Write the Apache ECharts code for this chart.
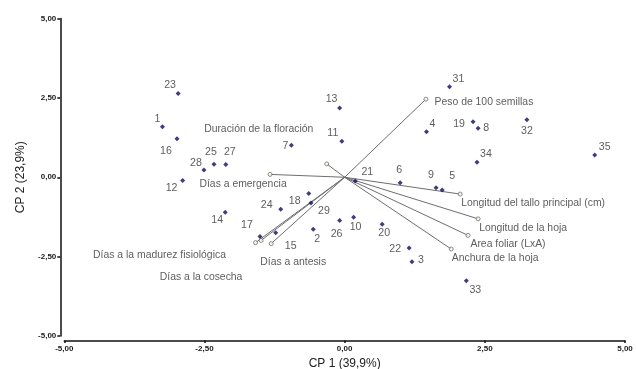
<!DOCTYPE html>
<html><head><meta charset="utf-8">
<script src="https://cdn.jsdelivr.net/npm/echarts@6/dist/echarts.min.js"></script>
<style>html,body{margin:0;padding:0;background:#fff}#c{width:636px;height:369px}</style>
</head><body><div id="c"></div>
<script>
// Observations (genotypes)
const obsIds = ['1','2','3','4','5','6','7','8','9','10','11','12','13','14','15','16','17','18','19','20','21','22','23','24','25','26','27','28','29','31','32','33','34','35'];
const obsPC1 = [-3.25,-0.56,1.20,1.46,1.74,0.99,-0.95,2.38,1.63,0.16,-0.05,-2.89,-0.09,-2.13,-1.23,-2.99,-1.51,-0.64,2.29,0.67,0.19,1.15,-2.97,-1.14,-2.33,-0.09,-2.12,-2.51,-0.60,1.87,3.25,2.17,2.36,4.46];
const obsPC2 = [1.59,-1.64,-2.66,1.43,-0.40,-0.17,1.01,1.54,-0.33,-1.26,1.13,-0.10,2.18,-1.10,-1.75,1.21,-1.87,-0.51,1.75,-1.48,-0.12,-2.23,2.64,-1.01,0.41,-1.36,0.40,0.23,-0.81,2.85,1.81,-3.26,0.47,0.70];

// Variables (loadings)
const varNames = ['Peso de 100 semillas','Duración de la floración','Días a emergencia','Longitud del tallo principal (cm)','Longitud de la hoja','Area foliar (LxA)','Anchura de la hoja','Días a la madurez fisiológica','Días a la cosecha','Días a antesis'];
const varPC1 = [1.45,-0.32,-1.33,2.06,2.38,2.20,1.90,-1.59,-1.49,-1.31];
const varPC2 = [2.46,0.42,0.09,-0.53,-1.31,-1.83,-2.26,-2.06,-1.99,-2.09];

// Axis
const tickValues = [-5, -2.5, 0, 2.5, 5];

// Layout only: label offsets (px) from marks
const obsLabelOffset = {
  '1':[-5,-8],'2':[4,10],'3':[9,-2],'4':[6,-8],'5':[10,-14],'6':[-1,-13],'7':[-6,1],'8':[8,0],'9':[-5,-13],
  '10':[2,10],'11':[-9,-8],'12':[-11,8],'13':[-8,-9],'14':[-8,8],'15':[15,13],'16':[-11,12],'17':[-13,-12],
  '18':[-14,8],'19':[-14,2],'20':[2,9],'21':[12,-9],'22':[-14,1],'23':[-8,-8],'24':[-14,-4],'25':[-3,-12],
  '26':[-3,14],'27':[4,-12],'28':[-8,-7],'29':[13,8],'31':[9,-8],'32':[0,11],'33':[9,9],'34':[9,-8],'35':[10,-8]
};
const varLabelOffset = [[58,3],[-68,-35],[-27,10],[73,9],[45,9],[40,9],[44,9],[-96,12],[-60,37],[22,19]];

const fmt = v => v.toFixed(2).replace('.', ',');
const FONT = 'Liberation Sans, Arial, sans-serif';

const series = [];
varNames.forEach((n, i) => {
  series.push({
    type: 'line', data: [[0, 0], [varPC1[i], varPC2[i]]], symbol: 'none', silent: true,
    lineStyle: { color: '#6e6e6e', width: 1 }, z: 2, animation: false
  });
});
series.push({
  type: 'scatter', z: 3, animation: false, symbol: 'circle', symbolSize: 4,
  itemStyle: { color: '#fdfbe6', borderColor: '#6e6e6e', borderWidth: 1 },
  data: varNames.map((n, i) => ({ name: n, value: [varPC1[i], varPC2[i]], label: { offset: varLabelOffset[i] } })),
  label: { show: true, position: 'inside', formatter: '{b}', color: '#333', fontSize: 10.4, fontFamily: FONT, textBorderWidth: 0 }
});
series.push({
  type: 'scatter', z: 4, animation: false, symbol: 'diamond', symbolSize: 5,
  itemStyle: { color: '#0c0c60' },
  data: obsIds.map((id, i) => ({ name: id, value: [obsPC1[i], obsPC2[i]], label: { offset: obsLabelOffset[id] } })),
  label: { show: true, position: 'inside', formatter: '{b}', color: '#333', fontSize: 10.6, fontFamily: FONT, textBorderWidth: 0 }
});

const chart = echarts.init(document.getElementById('c'), null, { renderer: 'canvas' });
chart.setOption({
  animation: false,
  backgroundColor: '#fff',
  grid: { left: 64.3, right: 11, top: 18.5, bottom: 33, containLabel: false, outerBoundsMode: 'none' },
  xAxis: {
    type: 'value', min: -5, max: 5, interval: 2.5, offset: 4.5,
    name: 'CP 1 (39,9%)', nameLocation: 'middle', nameGap: 12,
    nameTextStyle: { fontSize: 12, fontFamily: FONT, color: '#222' },
    axisLine: { show: true, onZero: false, lineStyle: { color: '#111', width: 1.5 } },
    axisTick: { show: true, length: 2.5, inside: false, lineStyle: { color: '#111', width: 1.5 } },
    axisLabel: { margin: 4, fontSize: 8, fontWeight: 'bold', fontFamily: FONT, color: '#1a1a1a', formatter: fmt, showMinLabel: true, showMaxLabel: true },
    splitLine: { show: false }
  },
  yAxis: {
    type: 'value', min: -5, max: 5, interval: 2.5, offset: 4,
    name: 'CP 2 (23,9%)', nameLocation: 'middle', nameGap: 32, nameRotate: 90,
    nameTextStyle: { fontSize: 12, fontFamily: FONT, color: '#222' },
    axisLine: { show: true, onZero: false, lineStyle: { color: '#111', width: 1.5 } },
    axisTick: { show: true, length: 3, inside: false, lineStyle: { color: '#111', width: 1.5 } },
    axisLabel: { margin: 4, fontSize: 8, fontWeight: 'bold', fontFamily: FONT, color: '#1a1a1a', formatter: fmt },
    splitLine: { show: false }
  },
  series: series
});
</script>
</body></html>
